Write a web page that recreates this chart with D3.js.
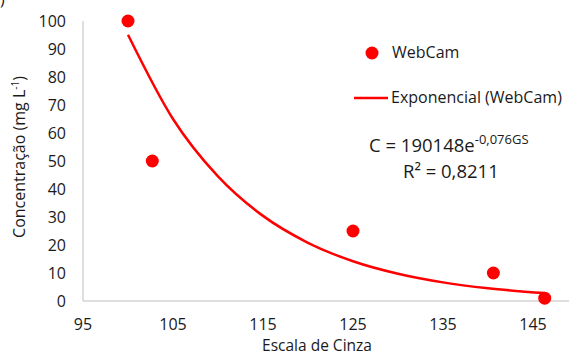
<!DOCTYPE html>
<html><head><meta charset="utf-8">
<script src="https://cdn.jsdelivr.net/npm/d3@7"></script>
<style>body{margin:0;background:#fff}svg{display:block}text{font-family:"Open Sans",Lato,sans-serif;fill:#1a1a1a}</style>
</head><body>
<script>
const xVals = [100, 102.7, 125, 140.6, 146.3];
const yVals = [100, 50, 25, 10, 1];
const trendX = [100, 105, 110, 115, 120, 125, 130, 135, 140, 146.3];
const trendY = [95.1, 65.0, 44.5, 30.4, 20.8, 14.2, 9.73, 6.65, 4.55, 2.82];
const xTicks = [95, 105, 115, 125, 135, 145];
const yTicks = [0, 10, 20, 30, 40, 50, 60, 70, 80, 90, 100];

const W = 569, H = 353;
const svg = d3.select("body").append("svg").attr("width", W).attr("height", H);
const x = d3.scaleLinear().domain([95, 150]).range([83, 578]);
const y = d3.scaleLinear().domain([0, 100]).range([301, 21]);

svg.append("line").attr("x1", x(95)).attr("x2", W).attr("y1", y(0)).attr("y2", y(0)).attr("stroke", "#bfbfbf").attr("stroke-width", 1);
svg.append("line").attr("x1", x(95)).attr("x2", x(95)).attr("y1", y(0)).attr("y2", y(100)).attr("stroke", "#bfbfbf").attr("stroke-width", 1);

const fs = 16;
svg.selectAll(".yt").data(yTicks).enter().append("text")
  .attr("x", 66).attr("y", d => y(d) + 5.5).attr("text-anchor", "end")
  .attr("font-size", fs).text(d => d);
svg.selectAll(".xt").data(xTicks).enter().append("text")
  .attr("x", d => x(d)).attr("y", 330).attr("text-anchor", "middle")
  .attr("font-size", fs).text(d => d);

svg.append("text").attr("x", 317).attr("y", 350.5).attr("text-anchor", "middle").attr("font-size", 15.5).text("Escala de Cinza");
const yt = svg.append("text").attr("transform", "translate(25,157) rotate(-90)").attr("text-anchor", "middle").attr("font-size", fs);
yt.append("tspan").text("Concentração (mg L");
yt.append("tspan").attr("dy", -6).attr("font-size", 10).text("-1");
yt.append("tspan").attr("dy", 6).text(")");

const line = d3.line().x((d, i) => x(trendX[i])).y(d => y(d)).curve(d3.curveMonotoneX);
svg.append("path").attr("d", line(trendY)).attr("fill", "none").attr("stroke", "#ff0000").attr("stroke-width", 2.5);

svg.selectAll(".pt").data(yVals).enter().append("circle")
  .attr("cx", (d, i) => x(xVals[i])).attr("cy", d => y(d)).attr("r", 6.5).attr("fill", "#ff0000");

svg.append("circle").attr("cx", 372).attr("cy", 53).attr("r", 6.5).attr("fill", "#ff0000");
svg.append("text").attr("x", 392).attr("y", 58).attr("font-size", fs).text("WebCam");
svg.append("line").attr("x1", 354).attr("x2", 388).attr("y1", 98).attr("y2", 98).attr("stroke", "#ff0000").attr("stroke-width", 2.5);
svg.append("text").attr("x", 391).attr("y", 103).attr("font-size", fs).text("Exponencial (WebCam)");

const eq = svg.append("text").attr("x", 369).attr("y", 152).attr("font-size", 18.5);
eq.append("tspan").text("C = 190148e");
eq.append("tspan").attr("dy", -8).attr("font-size", 13).text("-0,076GS");
svg.append("text").attr("x", 403).attr("y", 178).attr("font-size", 18.5).text("R² = 0,8211");

svg.append("text").attr("x", 0).attr("y", 5).attr("font-size", 16).text(")");
</script>
</body></html>
